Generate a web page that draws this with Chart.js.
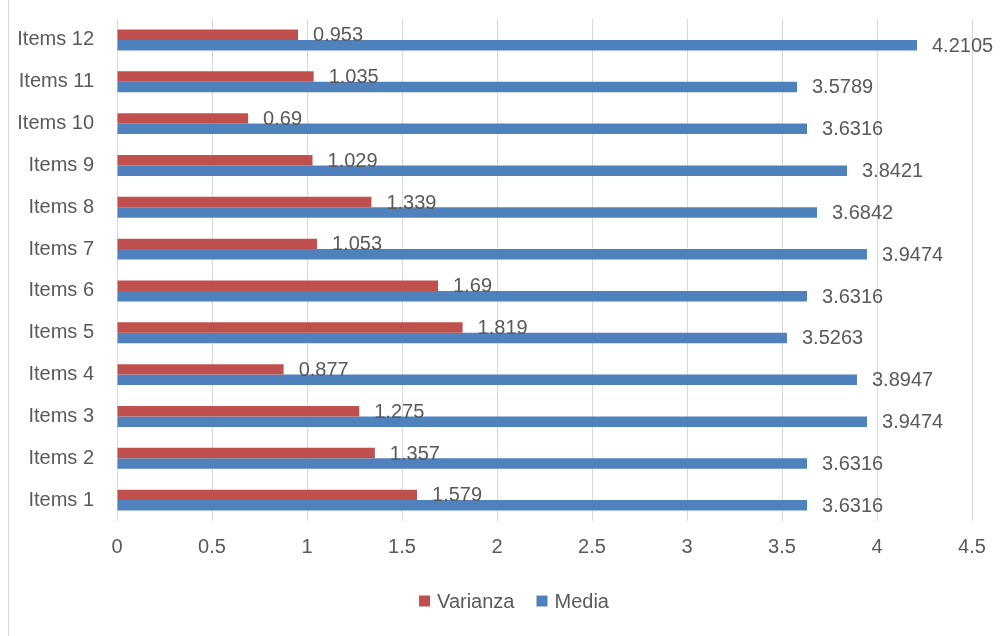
<!DOCTYPE html>
<html>
<head>
<meta charset="utf-8">
<script src="https://cdn.jsdelivr.net/npm/chart.js@4"></script>
<style>
  body { margin: 0; background: #fff; }
  #wrap { position: relative; width: 1000px; height: 636px; }
  #edge { position: absolute; left: 8px; top: 0; width: 1px; height: 636px; background: #d9d9d9; }
</style>
</head>
<body>
<div id="wrap">
  <div id="edge"></div>
  <canvas id="chart" width="1000" height="636"></canvas>
</div>
<script>
// Data, Items 1 .. Items 12
const items = ['Items 1', 'Items 2', 'Items 3', 'Items 4', 'Items 5', 'Items 6',
               'Items 7', 'Items 8', 'Items 9', 'Items 10', 'Items 11', 'Items 12'];
const varianza = [1.579, 1.357, 1.275, 0.877, 1.819, 1.69, 1.053, 1.339, 1.029, 0.69, 1.035, 0.953];
const media = [3.6316, 3.6316, 3.9474, 3.8947, 3.5263, 3.6316, 3.9474, 3.6842, 3.8421, 3.6316, 3.5789, 4.2105];

const textColor = '#595959';
const fontFamily = '"Liberation Sans", Arial, sans-serif';

// top of chart shows Items 12, so reverse for the category axis
const labelsTopDown = items.slice().reverse();
const varTopDown = varianza.slice().reverse();
const mediaTopDown = media.slice().reverse();

// draws value next to each bar
const valueLabels = {
    id: 'valueLabels',
    afterDatasetsDraw: (chart) => {
        const ctx = chart.ctx;
        ctx.save();
        ctx.font = '20px ' + fontFamily;
        ctx.fillStyle = textColor;
        ctx.textAlign = 'left';
        ctx.textBaseline = 'middle';
        chart.data.datasets.forEach((ds, i) => {
            const meta = chart.getDatasetMeta(i);
            meta.data.forEach((bar, j) => {
                ctx.fillText(String(ds.data[j]), bar.x + 15, bar.y + 1);
            });
        });
        ctx.restore();
    }
};

// legend under the axis, centred a bit right of the canvas middle like the original
const bottomLegend = {
    id: 'bottomLegend',
    afterDraw: (chart) => {
        const ctx = chart.ctx;
        const centerX = 514, y = 601, box = 11, gap = 7, spacing = 22;
        ctx.save();
        ctx.font = '20px ' + fontFamily;
        ctx.textBaseline = 'middle';
        ctx.textAlign = 'left';
        const ds = chart.data.datasets;
        const widths = ds.map((d) => box + gap + ctx.measureText(d.label).width);
        const total = widths.reduce((s, w) => s + w, 0) + spacing * (ds.length - 1);
        let x = centerX - total / 2;
        ds.forEach((d, i) => {
            ctx.fillStyle = d.backgroundColor;
            ctx.fillRect(x, y - box / 2, box, box);
            ctx.fillStyle = textColor;
            ctx.fillText(d.label, x + box + gap, y + 1);
            x += widths[i] + spacing;
        });
        ctx.restore();
    }
};

new Chart(document.getElementById('chart').getContext('2d'), {
    type: 'bar',
    data: {
        labels: labelsTopDown,
        datasets: [
            { label: 'Varianza', data: varTopDown, backgroundColor: '#C0504D' },
            { label: 'Media', data: mediaTopDown, backgroundColor: '#4F81BD' }
        ]
    },
    options: {
        indexAxis: 'y',
        responsive: false,
        animation: false,
        categoryPercentage: 0.5,
        barPercentage: 1.0,
        layout: { padding: { top: 19, right: 28, left: 0, bottom: 55 } },
        scales: {
            x: {
                min: 0,
                max: 4.5,
                ticks: {
                    stepSize: 0.5,
                    color: textColor,
                    font: { family: fontFamily, size: 20 },
                    padding: 14,
                    callback: (value) => String(value)
                },
                grid: { color: '#d9d9d9', drawTicks: false },
                border: { display: false },
                afterFit: (scale) => { scale.height = 60; }
            },
            y: {
                ticks: {
                    color: textColor,
                    font: { family: fontFamily, size: 20 },
                    padding: 23
                },
                grid: { display: false, drawTicks: false },
                border: { display: false },
                afterFit: (scale) => {
                    scale.width = 117;
                    scale.paddingTop = 0;
                    scale.paddingBottom = 0;
                }
            }
        },
        plugins: {
            legend: { display: false },
            tooltip: { enabled: false }
        }
    },
    plugins: [valueLabels, bottomLegend]
});
</script>
</body>
</html>
